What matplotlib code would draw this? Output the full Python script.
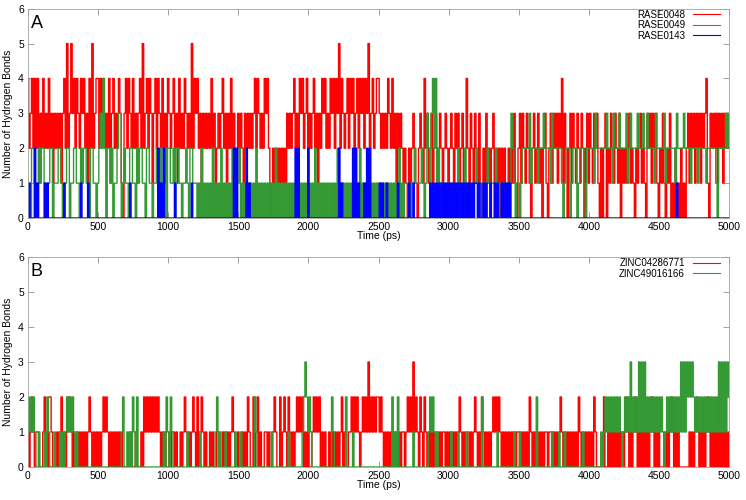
import numpy as np
import matplotlib
matplotlib.use("Agg")
import matplotlib.pyplot as plt

plt.rcParams['font.family'] = ['Liberation Sans', 'DejaVu Sans']
plt.rcParams['path.simplify'] = False

# number of hydrogen bonds, one digit every 10 ps (groups of 100 ps, 500 ps per line)
# panel A
rase0048 = (
    "4234242413 2423242313 2323134252 3534243243 4231425234 "
    "4243423241 3423243103 4243242313 4252342431 3424324232 "
    "4323423142 3243232524 3423132323 2423123234 2313242321 "
    "3232132323 2342432324 3421021212 1212132323 4232434234 "
    "2323423132 4342324342 4352432342 4342342434 2435234234 "
    "4323232432 4230323212 1021232102 3214231231 2312321232 "
    "1232132312 3124213213 2131020312 0231212021 2102121310 "
    "2313213210 2312312023 1023132313 2413202313 2132132023 "
    "1321323102 0230213213 2130212123 1210212312 1032313231 "
    "0213102130 1020102010 2313231323 1323410323 2313231323 "
    "2"
)
rase0049 = (
    "1102211021 2210112201 1122101122 0112211021 2211022110 "
    "1232420221 2011233012 1102211021 2211022110 1122021120 "
    "2211202211 0112102211 1010201010 1020101020 1010102010 "
    "1201010101 0102010101 0101010201 0101010101 0102010101 "
    "0101020101 0101010101 0201010101 0101010201 0101010101 "
    "0101010101 0101020101 1110112111 1210132134 2412111011 "
    "1111011211 1121011111 2111101121 1111210111 1111132101 "
    "1012222231 2222122232 2221322222 2101222012 2201222102 "
    "2222132222 2223222132 2232222312 3222232223 2232222132 "
    "2222312222 2213222232 2221222212 2222122222 2102222232 "
    "3"
)
rase0143 = (
    "0100020100 0010100000 0000001000 0000000010 0001000000 "
    "0000000000 0000000000 0001000000 0000000000 0002010200 "
    "0000010000 0000000100 0000000000 0000000000 0000000202 "
    "0000002010 0000000000 0000000000 0000000000 0202000000 "
    "2000000000 0000000000 0020100000 0020201000 1020200000 "
    "0101001000 0000100000 0010010000 0000000101 0101010101 "
    "0101010101 0101010101 1010010100 1001010010 1010100000 "
    "0000000000 0000000000 0000000000 0000000000 0000000000 "
    "0000000000 0000000000 0000000000 0000000000 0000000000 "
    "0000000000 0001000000 0000000000 0000000000 0000000000 "
    "0"
)
# panel B
zinc04286771 = (
    "1012101100 0121022100 0101201012 2101010101 0101210101 "
    "0101212101 0101010100 0001000100 0102121212 1212101010 "
    "0101101001 0121010121 0201210100 1010011001 0101012100 "
    "1001010210 0201201001 1010012100 2012102101 0121212010 "
    "1001212120 1010010101 0101201001 1212121012 1213121212 "
    "2121010101 0101010110 1212131210 2102101010 1010101101 "
    "0101010121 0101101012 1010210101 0121212101 0101010101 "
    "1010101021 0101010101 1011010101 2101010101 0102101010 "
    "1010210000 0200101010 1010101210 1012101010 1010121010 "
    "1000101012 1010100000 0010101210 1010121010 1010101010 "
    "1"
)
zinc49016166 = (
    "2121210010 0010210001 0001010121 2121010000 0000000000 "
    "0000000000 0000000120 0101021020 0000000000 0000000102 "
    "1021000000 0000100000 0001000000 0000120100 0100000010 "
    "0010000000 0021000000 0000100000 0000001000 0000001232 "
    "1210000000 0000000210 0000000200 0010000000 0000000000 "
    "0000000000 2010200000 0000010000 0000001212 1010000000 "
    "0010000100 0001000000 0000200000 0000010000 0000000100 "
    "0100000000 0002000000 0000100001 0001000000 0000001000 "
    "0000000001 0121212121 2121012121 3121213131 3121212121 "
    "2121012121 2121213131 3232321212 1212121212 1213131313 "
    "2"
)

labels_a = ["RASE0048", "RASE0049", "RASE0143"]
labels_b = ["ZINC04286771", "ZINC49016166"]
colors = ["#ff0000", "#339933", "#0000ff"]


def counts(s):
    return np.array([int(c) for c in s if c.isdigit()])


series_a = [counts(s) for s in (rase0048, rase0049, rase0143)]
series_b = [counts(s) for s in (zinc04286771, zinc49016166)]
for v in series_a + series_b:
    assert len(v) == 501, [len(x) for x in series_a + series_b]

fig = plt.figure(figsize=(7.46, 5.0), dpi=100)
axA = fig.add_axes([28/746, 1-218/500, 701/746, 209.3/500])
axB = fig.add_axes([28/746, 1-467/500, 701/746, 210/500])


def style(ax, letter):
    ax.set_xlim(0, 5000)
    ax.set_ylim(0, 6)
    ax.set_xticks(np.arange(0, 5001, 500))
    ax.set_yticks(range(7))
    ax.tick_params(direction='in', length=4, width=0.6, color='#909090',
                   labelsize=7.5, top=True, right=True, pad=3)
    for sp in ax.spines.values():
        sp.set_color('#a0a0a0')
        sp.set_linewidth(0.6)
    ax.set_xlabel('Time (ps)', fontsize=7.5)
    ax.set_ylabel('Number of Hydrogen Bonds', fontsize=7.5)
    ax.xaxis.set_label_coords(0.5, -0.064)
    ax.yaxis.set_label_coords(-0.022, 0.5)
    ax.text(0.004, 0.908, letter, transform=ax.transAxes, fontsize=13, va='baseline')
    leg = ax.legend(loc='upper right', bbox_to_anchor=(0.987, 0.995), borderaxespad=0,
                    borderpad=0, frameon=False, markerfirst=False, fontsize=7,
                    handlelength=2.8, handletextpad=0.8, labelspacing=0.05)
    for ln in leg.get_lines():
        ln.set_linewidth(0.8)


for v, lab, c in zip(series_a, labels_a, colors):
    axA.plot(np.arange(len(v)) * 10, v, color=c, lw=1.0, label=lab,
             drawstyle='steps-mid', snap=False)
for v, lab, c in zip(series_b, labels_b, colors):
    axB.plot(np.arange(len(v)) * 10, v, color=c, lw=1.0, label=lab,
             drawstyle='steps-mid', snap=False)

style(axA, 'A')
style(axB, 'B')

fig.savefig('out.png', dpi=100)
